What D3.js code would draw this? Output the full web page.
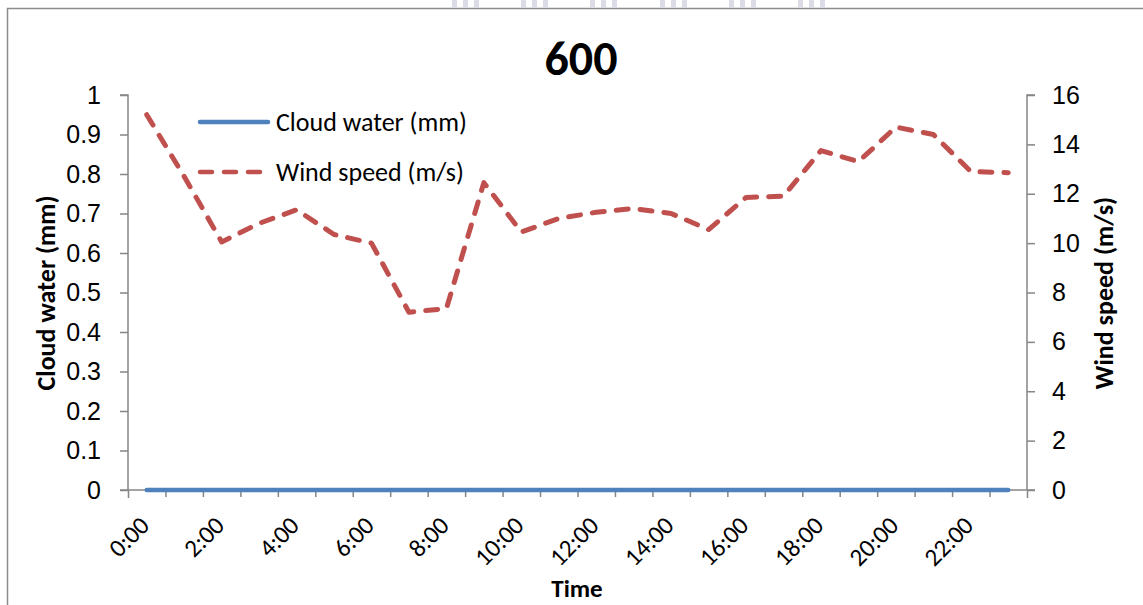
<!DOCTYPE html>
<html lang="en">
<head>
  <meta charset="UTF-8">
  <title>600 - Cloud water and wind speed</title>
  <script src="https://d3js.org/d3.v7.min.js"></script>
  <style>
    body { margin: 0; background: #fff; }
    svg { display: block; font-family: Carlito, Lato, "Open Sans", sans-serif; }
    .axis path, .axis line { stroke: #868686; stroke-width: 1.5px; }
    .axis text { fill: #000; font-size: 25px; }
  </style>
</head>
<body>
<svg width="1143" height="605"></svg>

<script>
  // data
  const hours = d3.range(24).map(h => h + ":00");
  const cloudWater = new Array(24).fill(0);
  const windSpeed = [15.2, 12.7, 10.05, 10.8, 11.35, 10.35, 10.0, 7.2, 7.35, 12.45,
                     10.45, 11.0, 11.25, 11.4, 11.2, 10.55, 11.85, 11.9, 13.75, 13.3,
                     14.7, 14.4, 12.9, 12.85];
  const cloudTicks = d3.range(0, 1.01, 0.1);
  const windTicks = d3.range(0, 17, 2);
  const labelHours = hours.filter((d, i) => i % 2 === 0);

  const svg = d3.select("svg");
  const plotL = 128, plotR = 1027, plotT = 95, plotB = 490;

  // page border + faint scan stripes at the top
  svg.append("rect")
    .attr("x", 7.5).attr("y", 8.5)
    .attr("width", 1160).attr("height", 620)
    .attr("fill", "none").attr("stroke", "#8c8c8c").attr("stroke-width", 1.5);
  [452, 521, 590, 660, 729, 798].forEach(x0 => {
    [0, 11, 22].forEach(dx => {
      svg.append("rect").attr("x", x0 + dx).attr("y", 0)
        .attr("width", 5).attr("height", 8).attr("fill", "#dcdce6");
    });
  });

  const x = d3.scaleBand().domain(hours).range([plotL, plotR]).padding(0);
  const xEdge = d3.scaleLinear().domain([0, 24]).range([plotL, plotR]);
  const yL = d3.scaleLinear().domain([0, 1]).range([plotB, plotT]);
  const yR = d3.scaleLinear().domain([0, 16]).range([plotB, plotT]);
  const cx = d => x(d) + x.bandwidth() / 2;

  // axes
  const gL = svg.append("g").attr("class", "axis")
    .attr("transform", `translate(${plotL},0)`)
    .call(d3.axisLeft(yL).tickValues(cloudTicks).tickSize(8).tickPadding(19)
      .tickFormat(d => d3.format("~g")(+d.toFixed(1))));
  gL.select(".domain").attr("d", `M-8,${plotT}H0V${plotB}`);

  const gR = svg.append("g").attr("class", "axis")
    .attr("transform", `translate(${plotR},0)`)
    .call(d3.axisRight(yR).tickValues(windTicks).tickSize(8).tickPadding(17));
  gR.select(".domain").attr("d", `M8,${plotT}H0V${plotB}`);

  const gX = svg.append("g").attr("class", "axis")
    .attr("transform", `translate(0,${plotB})`)
    .call(d3.axisBottom(xEdge).ticks(24).tickSize(7).tickFormat(""));
  gX.select(".domain").attr("d", `M${plotL - 8},0H${plotR + 8}`);
  gX.selectAll(".tick line").filter(d => d === 0 || d === 24).attr("y2", 8);

  svg.append("g").selectAll("text")
    .data(labelHours)
    .join("text")
    .attr("text-anchor", "end")
    .attr("font-size", 25)
    .attr("transform", d => `translate(${cx(d) + 4},${plotB + 37}) rotate(-45)`)
    .text(d => d);

  // lines
  svg.append("path")
    .datum(cloudWater)
    .attr("fill", "none")
    .attr("stroke", "#4F81BD")
    .attr("stroke-width", 4.5)
    .attr("stroke-linecap", "round")
    .attr("d", d3.line().x((d, i) => cx(hours[i])).y(d => yL(d)));

  svg.append("path")
    .datum(windSpeed)
    .attr("fill", "none")
    .attr("stroke", "#C0504D")
    .attr("stroke-width", 5)
    .attr("stroke-linecap", "round")
    .attr("stroke-linejoin", "round")
    .attr("stroke-dasharray", "12,12")
    .attr("d", d3.line().x((d, i) => cx(hours[i])).y(d => yR(d)));

  // legend
  const legend = [
    { name: "Cloud water (mm)", color: "#4F81BD", dash: null, y: 122 },
    { name: "Wind speed (m/s)", color: "#C0504D", dash: "12,12", y: 172 }
  ];
  legend.forEach(l => {
    svg.append("line")
      .attr("x1", 200).attr("x2", 268).attr("y1", l.y).attr("y2", l.y)
      .attr("stroke", l.color).attr("stroke-width", 4.5)
      .attr("stroke-linecap", "round")
      .attr("stroke-dasharray", l.dash);
    svg.append("text")
      .attr("x", 276).attr("y", l.y + 9)
      .attr("font-size", 26)
      .text(l.name);
  });

  // titles
  svg.append("text")
    .attr("x", 581).attr("y", 75)
    .attr("text-anchor", "middle")
    .attr("font-size", 48).attr("font-weight", "bold")
    .text("600");

  svg.append("text")
    .attr("transform", "translate(55,293) rotate(-90)")
    .attr("text-anchor", "middle")
    .attr("font-size", 26).attr("font-weight", "bold")
    .text("Cloud water (mm)");

  svg.append("text")
    .attr("transform", "translate(1113,293) rotate(-90)")
    .attr("text-anchor", "middle")
    .attr("font-size", 26).attr("font-weight", "bold")
    .text("Wind speed (m/s)");

  svg.append("text")
    .attr("x", 577).attr("y", 597)
    .attr("text-anchor", "middle")
    .attr("font-size", 25).attr("font-weight", "bold")
    .text("Time");
</script>
</body>
</html>
